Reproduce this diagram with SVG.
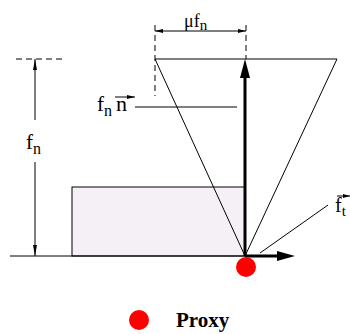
<svg xmlns="http://www.w3.org/2000/svg" width="350" height="334" viewBox="0 0 350 334">
<style>
.ln{stroke:#000;stroke-width:1;fill:none}
.thick{stroke:#000;stroke-width:3;fill:none}
.dash{stroke:#000;stroke-width:1;stroke-dasharray:6,4;fill:none}
.ah{fill:#000;stroke:none}
.t{font-family:"Liberation Serif","DejaVu Serif",serif;fill:#000}
.proxy{fill:#ff0000}
</style>
<rect width="350" height="334" fill="#fff"/>
<g id="block">
<rect x="72" y="187" width="173" height="69" fill="#f5f0f5" stroke="#000" stroke-width="1"/>
</g>
<g id="ground">
<line class="ln" x1="10" y1="256" x2="245" y2="256"/>
</g>
<g id="cone">
<line class="ln" x1="155" y1="59" x2="337" y2="59"/>
<line class="ln" x1="155" y1="59" x2="245" y2="256"/>
<line class="ln" x1="337" y1="59" x2="245" y2="256"/>
</g>
<g id="connectors">
<line class="thick" x1="245" y1="256" x2="245" y2="72"/>
<polygon class="ah" points="245,59 240,78 250,78"/>
<line class="thick" x1="245" y1="256" x2="280" y2="256"/>
<polygon class="ah" points="295,256 277,251 277,261"/>
<line class="dash" x1="155" y1="25" x2="155" y2="96"/>
<line class="dash" x1="246" y1="25" x2="246" y2="59"/>
<line class="ln" x1="155" y1="31" x2="246" y2="31"/>
<polygon class="ah" points="155,31 163,29 163,33"/>
<polygon class="ah" points="246,31 238,29 238,33"/>
<line class="dash" x1="16" y1="59" x2="62" y2="59"/>
<line class="ln" x1="35" y1="59" x2="35" y2="120"/>
<line class="ln" x1="35" y1="162" x2="35" y2="256"/>
<polygon class="ah" points="35,59 33,70 37,70"/>
<polygon class="ah" points="35,256 33,245 37,245"/>
<line class="ln" x1="135" y1="107" x2="237" y2="107"/>
<line class="ln" x1="260" y1="253" x2="328" y2="205"/>
<line class="ln" x1="115" y1="97" x2="135" y2="97"/>
<polygon class="ah" points="135,97 127,95 127,99"/>
<line class="ln" x1="337" y1="196" x2="350" y2="196"/>
<polygon class="ah" points="350,196 343,194 343,198"/>
</g>
<g id="labels">
<text class="t" x="184" y="27" font-size="18">μf<tspan font-size="15" dy="3">n</tspan></text>
<text class="t" x="26" y="149" font-size="21">f<tspan font-size="16" dy="5">n</tspan></text>
<text class="t" x="97" y="111" font-size="21">f<tspan font-size="16" dy="5">n</tspan></text>
<text class="t" x="116" y="111" font-size="22">n</text>
<text class="t" x="335" y="212" font-size="20">f<tspan font-size="15" dy="4">t</tspan></text>
</g>
<g id="proxy">
<circle class="proxy" cx="246" cy="267" r="10"/>
</g>
<g id="legend">
<circle class="proxy" cx="139" cy="320" r="10"/>
<text class="t" x="176" y="327" font-size="21" font-weight="bold">Proxy</text>
</g>
</svg>
